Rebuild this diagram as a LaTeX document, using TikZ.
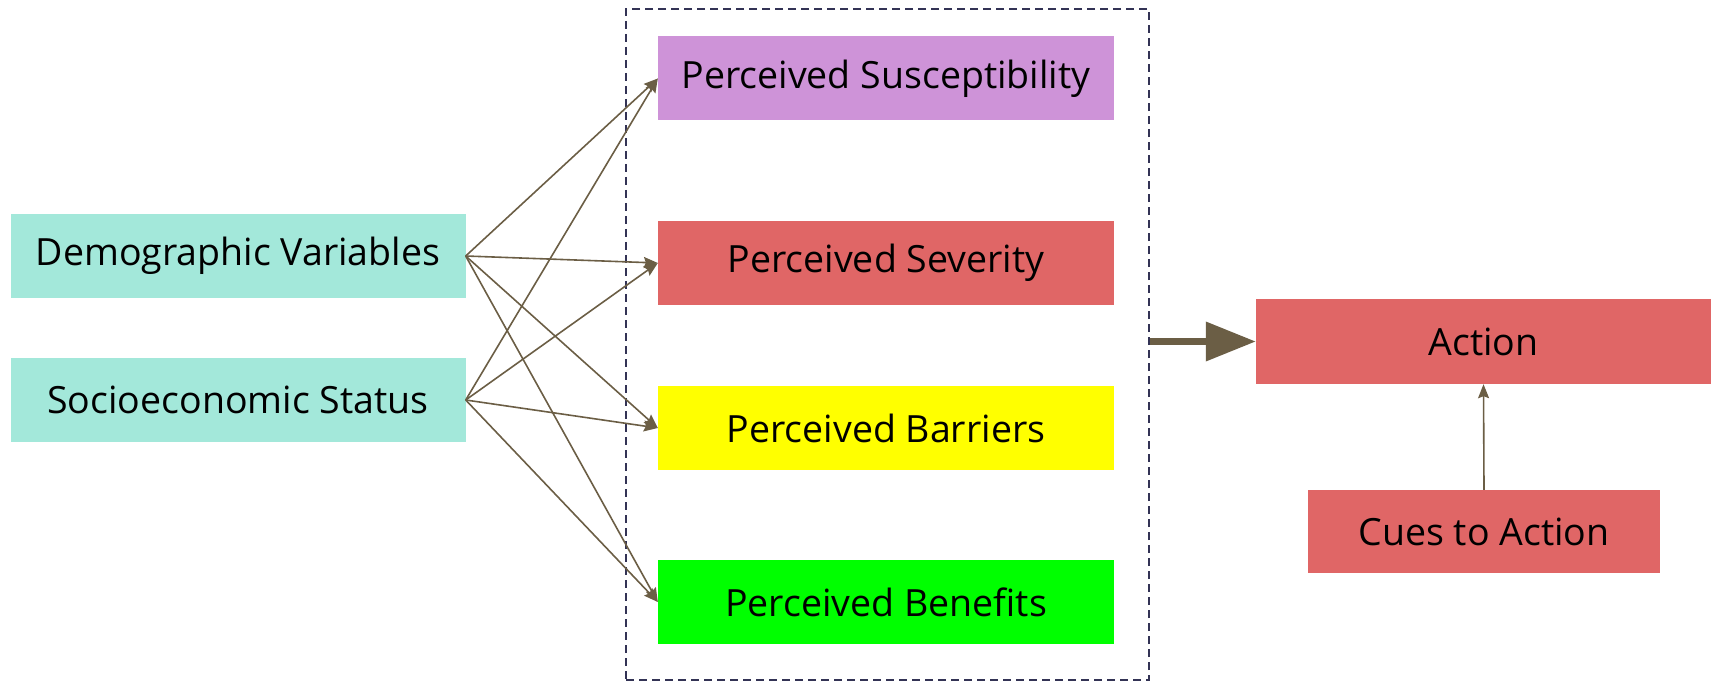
\documentclass[tikz,border=0pt]{standalone}
\usepackage{fontspec}
\setmainfont{Open Sans}
\usetikzlibrary{arrows.meta}

\definecolor{mint}{HTML}{A3E8DA}
\definecolor{lilac}{HTML}{CE93D8}
\definecolor{salmon}{HTML}{E06666}
\definecolor{brightyellow}{HTML}{FFFF00}
\definecolor{brightgreen}{HTML}{00FF00}
\definecolor{linkbrown}{HTML}{6B5E45}
\definecolor{framenavy}{HTML}{333355}

\tikzset{
  box/.style={rectangle,inner sep=0pt,minimum width=455pt,minimum height=84pt,
    font=\fontsize{37.5}{42}\selectfont},
  link/.style={color=linkbrown,line width=1.6pt,
    -{Stealth[length=14pt,width=11pt,inset=2pt]}},
  bigarrow/.style={draw=linkbrown,fill=linkbrown,line width=7pt,
    -{Triangle[length=50pt,width=38pt]}}
}

\begin{document}
\begin{tikzpicture}[x=1pt,y=-1pt]
        \useasboundingbox (0,0) rectangle (1719,682);

        \node[rectangle,draw=framenavy,line width=1.5pt,dash pattern=on 8pt off 5pt,
          minimum width=523pt,minimum height=671pt] (frame) at (887.5,344.5) {};

        \node[box,fill=mint] (demo) at (238,256) {Demographic Variables};
        \node[box,fill=mint] (socio) at (238,400) {Socioeconomic Status};

        \node[box,fill=lilac,minimum width=456pt] (susc) at (886,78.5) {Perceived Susceptibility};
        \node[box,fill=salmon,minimum width=456pt] (sev) at (886,263) {Perceived Severity};
        \node[box,fill=brightyellow,minimum width=456pt] (barr) at (886,428) {Perceived Barriers};
        \node[box,fill=brightgreen,minimum width=456pt] (ben) at (886,602) {Perceived Benefits};

        \node[box,fill=salmon,minimum height=85pt] (action) at (1483.5,341.5) {Action};
        \node[box,fill=salmon,minimum width=352pt,minimum height=83pt] (cues) at (1484,531.5) {Cues to Action};

        \path[link]

        (demo.east) edge (susc.west)
        (demo.east) edge (sev.west)
        (demo.east) edge (barr.west)
        (demo.east) edge (ben.west)

        (socio.east) edge (susc.west)
        (socio.east) edge (sev.west)
        (socio.east) edge (barr.west)
        (socio.east) edge (ben.west)

        (cues.north) edge (action.south)
        ;

        \draw[bigarrow] (frame.east |- action.west) -- (action.west);
\end{tikzpicture}
\end{document}
